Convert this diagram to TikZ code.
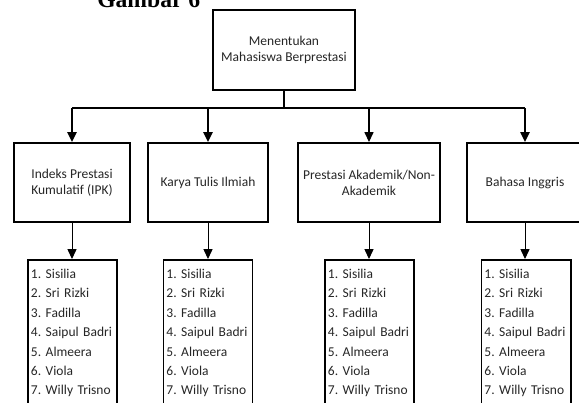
\documentclass[tikz,border=0pt]{standalone}
\usepackage{fontspec}
\setmainfont{Carlito}
\newfontfamily\judulfont{Liberation Serif}
\usetikzlibrary{arrows.meta, positioning}
\frenchspacing
\newcommand{\daftarnama}{1. Sisilia\\2. Sri Rizki\\3. Fadilla\\4. Saipul Badri\\5. Almeera\\6. Viola\\7. Willy Trisno}

\begin{document}
\begin{tikzpicture}[
  x=0.025cm, y=-0.025cm,
  every node/.style={font=\fontsize{9.6}{11.5}\selectfont, text=black!85},
  kotak/.style={rectangle, draw=black, line width=1.4pt, minimum height=1.975cm, align=center, inner sep=2pt},
  daftar/.style={rectangle, draw=black, line width=1.4pt, minimum width=2.225cm, minimum height=3.65cm,
    text width=2.075cm, align=left, inner xsep=0.075cm, inner ysep=0.1cm, font=\frenchspacing\fontsize{9.6}{13.8}\selectfont},
  panah/.style={-{Triangle[width=6.4pt, length=7pt]}},
]
\useasboundingbox (0,0) rectangle (579,402);

% Judul (terpotong)
\node[font=\judulfont\bfseries\fontsize{16.8}{18}\selectfont, text=black, anchor=base west, inner sep=0pt] (judul) at (97,7) {Gambar 6};

% Kotak utama
\node[kotak, minimum width=3.55cm, minimum height=2cm] (utama) at (284,50) {Menentukan\\Mahasiswa Berprestasi};

% Kriteria
\node[kotak, minimum width=2.9cm] (ipk) at (72,182.5) {Indeks Prestasi\\Kumulatif (IPK)};
\node[kotak, minimum width=3.0cm] (kti) at (208,182.5) {Karya Tulis Ilmiah};
\node[kotak, minimum width=3.55cm] (prestasi) at (369,182.5) {Prestasi Akademik/Non-\\Akademik};
\node[kotak, minimum width=2.9cm] (inggris) at (525,182.5) {Bahasa Inggris};

% Daftar mahasiswa
\node[daftar, anchor=north] (d1) at (72.5,259) {\daftarnama};
\node[daftar, anchor=north] (d2) at (208,259) {\daftarnama};
\node[daftar, anchor=north] (d3) at (369.5,259) {\daftarnama};
\node[daftar, anchor=north] (d4) at (526,259) {\daftarnama};

% Garis penghubung
\coordinate (cabang) at (284,108);
\draw[line width=1.4pt] (utama.south) -- (cabang);
\draw[line width=1.4pt] (cabang -| ipk.north) -- (cabang -| inggris.north);
\draw[panah, line width=1.4pt] (cabang -| ipk.north) -- (ipk.north);
\draw[panah, line width=1.4pt] (cabang -| kti.north) -- (kti.north);
\draw[panah, line width=0.8pt] (cabang -| prestasi.north) -- (prestasi.north);
\draw[panah, line width=1.4pt] (cabang -| inggris.north) -- (inggris.north);

\draw[panah, line width=0.7pt] (ipk.south) -- (ipk.south |- d1.north);
\draw[panah, line width=0.7pt] (kti.south) -- (kti.south |- d2.north);
\draw[panah, line width=0.7pt] (prestasi.south) -- (prestasi.south |- d3.north);
\draw[panah, line width=0.7pt] (inggris.south) -- (inggris.south |- d4.north);

\end{tikzpicture}
\end{document}
